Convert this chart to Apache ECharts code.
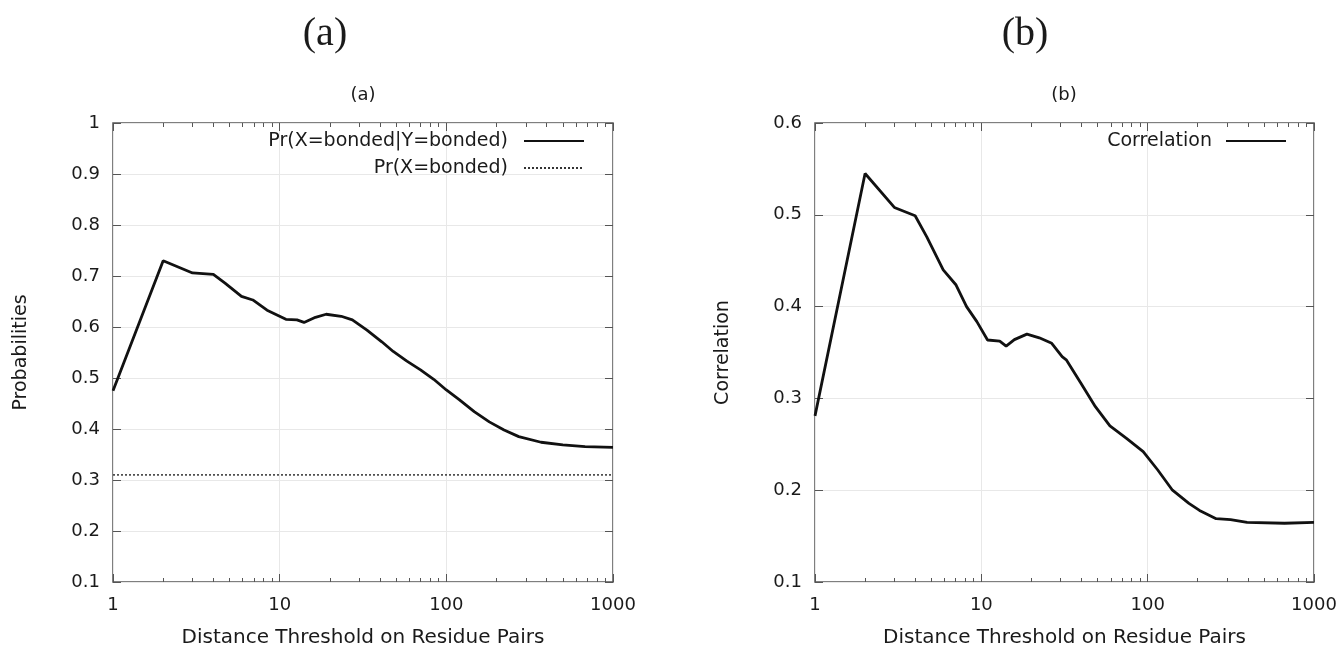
<!DOCTYPE html>
<html>
<head>
<meta charset="utf-8">
<script src="https://cdn.jsdelivr.net/npm/echarts@6/dist/echarts.min.js"></script>
<style>
html,body{margin:0;padding:0;background:#fff;}
#chart{width:1342px;height:650px;}
</style>
</head>
<body>
<div id="chart"></div>
<script>
// ---- data ----
const xTickLabels = ['1', '10', '100', '1000'];
const minorTickValues = [2,3,4,5,6,7,8,9,20,30,40,50,60,70,80,90,200,300,400,500,600,700,800,900];

// panel (a): Pr(X=bonded|Y=bonded)
const condX = [1, 2, 3, 4, 4.7, 5.9, 6.9, 8.4, 10.9, 12.7, 14, 16.4, 19, 23.4, 27.3, 33.4, 41, 48, 58, 70, 84, 100, 120, 147, 181, 222, 272, 370, 500, 680, 1000];
const condY = [0.475, 0.730, 0.706, 0.703, 0.686, 0.660, 0.653, 0.633, 0.615, 0.614, 0.609, 0.619, 0.625, 0.621, 0.614, 0.594, 0.571, 0.552, 0.533, 0.516, 0.4975, 0.4765, 0.457, 0.434, 0.414, 0.398, 0.385, 0.374, 0.369, 0.3655, 0.364];
// panel (a): Pr(X=bonded)
const priorX = [1, 1000];
const priorY = [0.31, 0.31];
// panel (b): Correlation
const corrX = [1, 2, 3, 4, 4.7, 5.9, 7.05, 8.15, 9.4, 10.9, 12.9, 14.1, 15.8, 18.8, 22.3, 26.5, 30.6, 32.4, 39.7, 48.5, 59.3, 74.6, 94, 115, 141, 177, 205, 258, 315, 396, 665, 1000];
const corrY = [0.281, 0.545, 0.508, 0.499, 0.476, 0.440, 0.4235, 0.400, 0.3836, 0.3636, 0.3625, 0.357, 0.364, 0.370, 0.366, 0.360, 0.3455, 0.342, 0.3165, 0.291, 0.270, 0.2565, 0.242, 0.222, 0.200, 0.1857, 0.178, 0.169, 0.168, 0.165, 0.164, 0.165];

const seriesNames = ['Pr(X=bonded|Y=bonded)', 'Pr(X=bonded)', 'Correlation'];
const yAxisNames = ['Probabilities', 'Correlation'];
const xAxisName = 'Distance Threshold on Residue Pairs';
const bigTitles = ['(a)', '(b)'];
const smallTitles = ['(a)', '(b)'];

function pairs(xs, ys) { return xs.map((x, i) => [x, ys[i]]); }

// ---- styling ----
const SANS = 'DejaVu Sans';
const AX = '#555';
const GRIDC = '#e8e8e8';
const TXT = '#1a1a1a';

function xMajor(grid, pos, withLabels) {
  return {
    type: 'log', logBase: 10, min: 1, max: 1000, gridIndex: grid, position: pos,
    axisLine: {show: false},
    axisTick: {show: true, inside: true, length: 8, lineStyle: {color: AX, width: 1}},
    axisLabel: withLabels ? {show: true, fontFamily: SANS, fontSize: 18, color: TXT, margin: 14,
      formatter: v => xTickLabels[Math.round(Math.log10(v))]} : {show: false},
    splitLine: withLabels ? {show: true, lineStyle: {color: GRIDC, width: 1}} : {show: false},
    name: withLabels ? xAxisName : '',
    nameLocation: 'middle', nameGap: 46,
    nameTextStyle: {fontFamily: SANS, fontSize: 20, color: TXT}
  };
}
function xMinor(grid, pos) {
  return {
    type: 'log', logBase: 10, min: 1, max: 1000, gridIndex: grid, position: pos,
    axisLine: {show: false},
    axisTick: {show: true, inside: true, length: 4, customValues: minorTickValues, lineStyle: {color: AX, width: 1}},
    axisLabel: {show: false},
    splitLine: {show: false}
  };
}
function yAx(grid, pos, max, withLabels, name) {
  return {
    type: 'value', min: 0.1, max: max, interval: 0.1, gridIndex: grid, position: pos,
    axisLine: {show: false},
    axisTick: {show: true, inside: true, length: 8, lineStyle: {color: AX, width: 1}},
    axisLabel: withLabels ? {show: true, fontFamily: SANS, fontSize: 18, color: TXT, margin: 13,
      formatter: v => String(Math.round(v * 10) / 10)} : {show: false},
    splitLine: withLabels ? {show: true, lineStyle: {color: GRIDC, width: 1}} : {show: false},
    name: withLabels ? name : '',
    nameLocation: 'middle', nameGap: 82, nameRotate: 90,
    nameTextStyle: {fontFamily: SANS, fontSize: 19, color: TXT}
  };
}

const option = {
  backgroundColor: '#fff',
  animation: false,
  title: [
    {text: bigTitles[0], left: 325, top: 14, textAlign: 'center', padding: 0,
      textStyle: {fontFamily: 'Liberation Serif', fontSize: 40, fontWeight: 'normal', color: TXT}},
    {text: bigTitles[1], left: 1025, top: 14, textAlign: 'center', padding: 0,
      textStyle: {fontFamily: 'Liberation Serif', fontSize: 40, fontWeight: 'normal', color: TXT}},
    {text: smallTitles[0], left: 363, top: 86, textAlign: 'center', padding: 0,
      textStyle: {fontFamily: SANS, fontSize: 18, fontWeight: 'normal', color: TXT}},
    {text: smallTitles[1], left: 1064, top: 86, textAlign: 'center', padding: 0,
      textStyle: {fontFamily: SANS, fontSize: 18, fontWeight: 'normal', color: TXT}}
  ],
  grid: [
    {left: 113, right: 729, top: 123, bottom: 68, show: true, borderColor: AX, borderWidth: 1.5,
      backgroundColor: 'transparent', containLabel: false, outerBoundsMode: 'none'},
    {left: 815, right: 28, top: 123, bottom: 68, show: true, borderColor: AX, borderWidth: 1.5,
      backgroundColor: 'transparent', containLabel: false, outerBoundsMode: 'none'}
  ],
  legend: [
    {data: [seriesNames[0], seriesNames[1]], orient: 'vertical', align: 'right', right: 757, top: 131, padding: 0,
      itemWidth: 60, itemHeight: 14, itemGap: 7,
      itemStyle: {opacity: 0, borderWidth: 0},
      textStyle: {fontFamily: SANS, fontSize: 19, color: TXT, lineHeight: 20, padding: [0, 11, 0, 0]}},
    {data: [seriesNames[2]], orient: 'vertical', align: 'right', right: 55, top: 131, padding: 0,
      itemWidth: 60, itemHeight: 14, itemGap: 7,
      itemStyle: {opacity: 0, borderWidth: 0},
      textStyle: {fontFamily: SANS, fontSize: 19, color: TXT, lineHeight: 20, padding: [0, 9, 0, 0]}}
  ],
  xAxis: [
    xMajor(0, 'bottom', true), xMinor(0, 'bottom'), xMajor(0, 'top', false), xMinor(0, 'top'),
    xMajor(1, 'bottom', true), xMinor(1, 'bottom'), xMajor(1, 'top', false), xMinor(1, 'top')
  ],
  yAxis: [
    yAx(0, 'left', 1, true, yAxisNames[0]), yAx(0, 'right', 1, false, ''),
    yAx(1, 'left', 0.6, true, yAxisNames[1]), yAx(1, 'right', 0.6, false, '')
  ],
  series: [
    {name: seriesNames[0], type: 'line', xAxisIndex: 0, yAxisIndex: 0, data: pairs(condX, condY),
      symbol: 'none', showSymbol: false, color: '#111', lineStyle: {color: '#111', width: 2.8}},
    {name: seriesNames[1], type: 'line', xAxisIndex: 0, yAxisIndex: 0, data: pairs(priorX, priorY),
      symbol: 'none', showSymbol: false, color: '#333', lineStyle: {color: '#333', width: 1.5, type: [2, 2]}},
    {name: seriesNames[2], type: 'line', xAxisIndex: 4, yAxisIndex: 2, data: pairs(corrX, corrY),
      symbol: 'none', showSymbol: false, color: '#111', lineStyle: {color: '#111', width: 2.8}}
  ]
};

const chart = echarts.init(document.getElementById('chart'), null, {renderer: 'canvas'});
chart.setOption(option);
</script>
</body>
</html>
